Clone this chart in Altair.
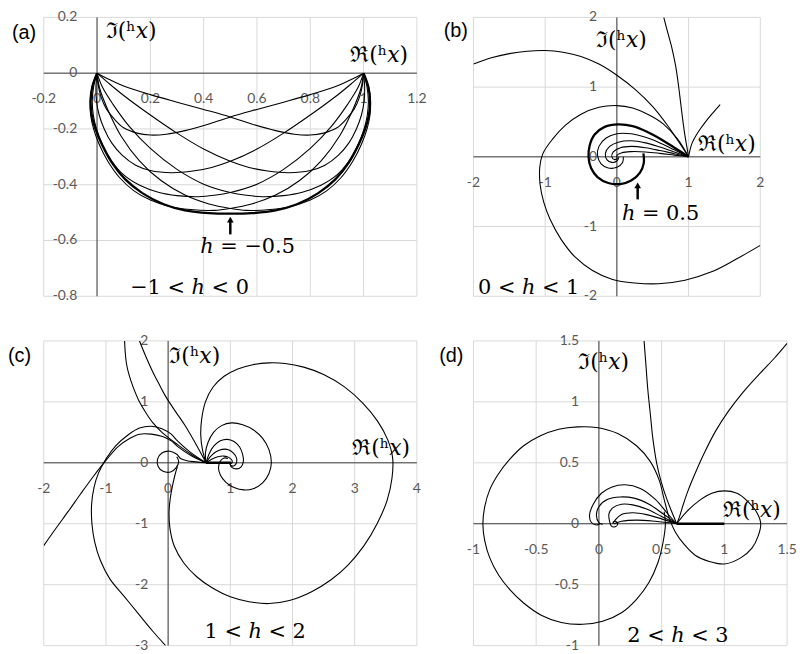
import altair as alt
import pandas as pd

AXIS_COLOR = "#404040"
GRID_COLOR = "#d9d9d9"
LABEL_COLOR = "#595959"
MATH_FONT = "DejaVu Serif"
TAG_FONT = "Liberation Sans"

# ---------------- tick values ----------------
A_XT = [-0.2, 0, 0.2, 0.4, 0.6, 0.8, 1, 1.2]
A_YT = [-0.8, -0.6, -0.4, -0.2, 0, 0.2]
B_XT = [-2, -1, 0, 1, 2]
B_YT = [-2, -1, 0, 1, 2]
C_XT = [-2, -1, 0, 1, 2, 3, 4]
C_YT = [-3, -2, -1, 0, 1, 2]
D_XT = [-1, -0.5, 0, 0.5, 1, 1.5]
D_YT = [-1, -0.5, 0, 0.5, 1, 1.5]

# ---------------- panel (a): -1 < h < 0 ----------------
A1 = [(0,0),(0.004,-0.04),(0.015,-0.085),(0.035,-0.128),(0.065,-0.165),(0.1,-0.196),(0.15,-0.215),(0.2,-0.222),(0.26,-0.219),(0.33,-0.206),(0.42,-0.182),(0.5,-0.157),(0.6,-0.13),(0.7,-0.104),(0.8,-0.077),(0.9,-0.046),(0.96,-0.02),(1,0)]
A9 = [(0,0),(0.04,-0.02),(0.1,-0.046),(0.2,-0.077),(0.3,-0.104),(0.4,-0.13),(0.5,-0.157),(0.58,-0.182),(0.67,-0.206),(0.74,-0.219),(0.8,-0.222),(0.85,-0.215),(0.9,-0.196),(0.935,-0.165),(0.965,-0.128),(0.985,-0.085),(0.996,-0.04),(1,0)]
A2 = [(0,0),(-0.004,-0.05),(-0.002,-0.1),(0.008,-0.15),(0.027,-0.2),(0.055,-0.25),(0.095,-0.295),(0.145,-0.33),(0.2,-0.349),(0.28,-0.357),(0.36,-0.351),(0.43,-0.338),(0.5,-0.316),(0.6,-0.272),(0.7,-0.215),(0.8,-0.15),(0.9,-0.08),(0.96,-0.033),(1,0)]
A8 = [(0,0),(0.04,-0.033),(0.1,-0.08),(0.2,-0.15),(0.3,-0.215),(0.4,-0.272),(0.5,-0.316),(0.57,-0.338),(0.64,-0.351),(0.72,-0.357),(0.8,-0.349),(0.855,-0.33),(0.905,-0.295),(0.945,-0.25),(0.973,-0.2),(0.992,-0.15),(1.002,-0.1),(1.004,-0.05),(1,0)]
A3 = [(0,0),(-0.013,-0.05),(-0.018,-0.1),(-0.014,-0.15),(-0.002,-0.2),(0.02,-0.255),(0.055,-0.315),(0.1,-0.365),(0.16,-0.402),(0.23,-0.427),(0.3,-0.439),(0.38,-0.443),(0.44,-0.438),(0.5,-0.428),(0.6,-0.398),(0.7,-0.345),(0.8,-0.27),(0.88,-0.19),(0.94,-0.112),(0.98,-0.05),(1,0)]
A7 = [(0,0),(0.02,-0.05),(0.06,-0.112),(0.12,-0.19),(0.2,-0.27),(0.3,-0.345),(0.4,-0.398),(0.5,-0.428),(0.56,-0.438),(0.62,-0.443),(0.7,-0.439),(0.77,-0.427),(0.84,-0.402),(0.9,-0.365),(0.945,-0.315),(0.98,-0.255),(1.002,-0.2),(1.014,-0.15),(1.018,-0.1),(1.013,-0.05),(1,0)]
A4 = [(0,0),(-0.019,-0.05),(-0.026,-0.1),(-0.024,-0.15),(-0.013,-0.2),(0.008,-0.255),(0.04,-0.315),(0.085,-0.375),(0.14,-0.423),(0.2,-0.455),(0.27,-0.477),(0.35,-0.489),(0.44,-0.492),(0.5,-0.485),(0.58,-0.469),(0.67,-0.437),(0.76,-0.385),(0.84,-0.315),(0.91,-0.225),(0.96,-0.13),(0.99,-0.055),(1,0)]
A6 = [(0,0),(0.01,-0.055),(0.04,-0.13),(0.09,-0.225),(0.16,-0.315),(0.24,-0.385),(0.33,-0.437),(0.42,-0.469),(0.5,-0.485),(0.56,-0.492),(0.65,-0.489),(0.73,-0.477),(0.8,-0.455),(0.86,-0.423),(0.915,-0.375),(0.96,-0.315),(0.992,-0.255),(1.013,-0.2),(1.024,-0.15),(1.026,-0.1),(1.019,-0.05),(1,0)]
A5 = [(0,0),(-0.018,-0.05),(-0.024,-0.1),(-0.02,-0.15),(-0.006,-0.2),(0.018,-0.255),(0.055,-0.32),(0.105,-0.38),(0.17,-0.43),(0.25,-0.47),(0.33,-0.492),(0.42,-0.502),(0.5,-0.504),(0.58,-0.502),(0.67,-0.492),(0.75,-0.47),(0.83,-0.43),(0.895,-0.38),(0.945,-0.32),(0.982,-0.255),(1.006,-0.2),(1.02,-0.15),(1.024,-0.1),(1.018,-0.05),(1,0)]

# ---------------- panel (b): 0 < h < 1 ----------------
B1 = [(1,0),(0.85,0.25),(0.65,0.47),(0.45,0.6),(0.22,0.7),(0,0.735),(-0.25,0.71),(-0.5,0.61),(-0.72,0.45),(-0.9,0.25),(-1.03,0.05),(-1.075,-0.15),(-1.07,-0.4),(-1.02,-0.65),(-0.93,-0.9),(-0.78,-1.18),(-0.58,-1.44),(-0.34,-1.63),(-0.06,-1.76),(0.25,-1.81),(0.58,-1.82),(0.95,-1.77),(1.32,-1.65),(1.66,-1.47),(2.0,-1.27)]
B2 = [(-2.0,1.33),(-1.75,1.42),(-1.5,1.48),(-1.25,1.515),(-1.0,1.525),(-0.75,1.5),(-0.5,1.44),(-0.25,1.33),(0.0,1.17),(0.25,0.97),(0.5,0.72),(0.7,0.46),(0.86,0.22),(1,0)]
B3 = [(0.654,2.0),(0.71,1.78),(0.77,1.55),(0.82,1.3),(0.86,1.02),(0.89,0.77),(0.92,0.52),(0.95,0.3),(0.98,0.12),(1,0)]
B4 = [(1,0),(1.02,0.1),(1.05,0.2),(1.1,0.3),(1.17,0.41),(1.25,0.52),(1.34,0.63),(1.44,0.75)]
B5 = [(1,0),(0.82,0.12),(0.62,0.25),(0.42,0.36),(0.22,0.44),(0.02,0.465),(-0.17,0.43),(-0.31,0.32),(-0.38,0.16),(-0.395,0.0),(-0.36,-0.16),(-0.27,-0.29),(-0.12,-0.375),(0.05,-0.39),(0.2,-0.34),(0.32,-0.23),(0.375,-0.09),(0.37,0.05)]
B6 = [(1,0),(0.8,0.1),(0.6,0.2),(0.4,0.28),(0.2,0.33),(0.0,0.33),(-0.15,0.27),(-0.25,0.15),(-0.27,0.02),(-0.22,-0.1),(-0.12,-0.16),(0.0,-0.15),(0.08,-0.08),(0.09,0.0)]
B7 = [(1,0),(0.8,0.07),(0.6,0.14),(0.4,0.2),(0.2,0.23),(0.02,0.21),(-0.1,0.15),(-0.16,0.05),(-0.14,-0.04),(-0.07,-0.08),(0.0,-0.06),(0.03,0.0)]
B8 = [(1,0),(0.8,0.045),(0.6,0.09),(0.4,0.13),(0.2,0.15),(0.05,0.13),(-0.05,0.07),(-0.07,0.0),(-0.03,-0.04),(0.01,-0.02)]
B9 = [(1,0),(0.8,0.025),(0.6,0.05),(0.4,0.07),(0.2,0.075),(0.07,0.06),(0.0,0.02),(0.0,-0.01)]

# ---------------- panel (c): 1 < h < 2 ----------------
C1 = [(0.61,0),(0.555,0.2),(0.525,0.45),(0.54,0.72),(0.6,1.0),(0.72,1.24),(0.9,1.42),(1.12,1.54),(1.36,1.61),(1.62,1.64),(1.88,1.63),(2.18,1.57),(2.5,1.45),(2.83,1.25),(3.13,0.98),(3.37,0.68),(3.53,0.38),(3.61,0.08),(3.6,-0.25),(3.52,-0.62),(3.36,-1.0),(3.15,-1.36),(2.9,-1.67),(2.62,-1.92),(2.3,-2.12),(1.95,-2.26),(1.62,-2.31),(1.3,-2.28),(1.0,-2.2),(0.72,-2.06),(0.46,-1.87),(0.25,-1.64),(0.1,-1.37),(0.03,-1.08),(0.015,-0.82),(0.035,-0.58),(0.07,-0.38),(0.11,-0.2),(0.15,-0.06)]
C2 = [(0.61,0),(0.6,0.16),(0.64,0.33),(0.73,0.5),(0.86,0.61),(1.02,0.655),(1.2,0.625),(1.38,0.535),(1.52,0.4),(1.62,0.22),(1.66,0.0),(1.62,-0.18),(1.52,-0.33),(1.38,-0.42),(1.22,-0.445),(1.06,-0.405),(0.93,-0.32),(0.84,-0.2),(0.81,-0.08),(0.84,0.03),(0.9,0.08),(0.96,0.07)]
C3 = [(0.61,0),(0.66,0.15),(0.74,0.28),(0.84,0.36),(0.95,0.385),(1.06,0.35),(1.15,0.26),(1.2,0.13),(1.21,0.02),(1.17,-0.07),(1.1,-0.1),(1.03,-0.08),(1.0,-0.03),(1.01,0.02)]
C4 = [(0.61,0),(0.68,0.1),(0.77,0.18),(0.87,0.22),(0.97,0.215),(1.05,0.16),(1.1,0.08),(1.1,0.0),(1.06,-0.05),(1.01,-0.045),(0.99,-0.005)]
C5 = [(0.61,0),(0.7,0.06),(0.8,0.1),(0.9,0.11),(0.98,0.085),(1.03,0.035),(1.02,-0.01),(0.99,-0.01)]
C6 = [(0.61,0),(0.4,0.12),(0.15,0.3),(-0.09,0.49),(-0.24,0.65),(-0.35,0.81),(-0.47,1.02),(-0.565,1.25),(-0.63,1.45),(-0.67,1.63),(-0.69,1.82),(-0.7,2.0)]
C7 = [(0.61,0),(0.45,0.3),(0.28,0.6),(0.12,0.84),(-0.04,1.09),(-0.15,1.3),(-0.25,1.5),(-0.36,1.75),(-0.46,2.0)]
C8 = [(-2.0,-1.36),(-1.8,-1.07),(-1.6,-0.79),(-1.4,-0.5),(-1.2,-0.22),(-1.0,0.04),(-0.8,0.27),(-0.62,0.4),(-0.46,0.47),(-0.27,0.47),(-0.09,0.43),(0.05,0.36),(0.15,0.27),(0.38,0.11),(0.61,0)]
C9 = [(-0.04,-3.0),(-0.25,-2.76),(-0.46,-2.5),(-0.7,-2.2),(-0.94,-1.9),(-1.09,-1.6),(-1.18,-1.3),(-1.225,-1.0),(-1.23,-0.68),(-1.19,-0.4),(-1.12,-0.17),(-1.0,0.06),(-0.84,0.28),(-0.64,0.46),(-0.46,0.57),(-0.27,0.6),(-0.1,0.56),(0.05,0.47),(0.15,0.36),(0.35,0.18),(0.61,0)]
C10 = [(0.61,0),(0.45,0.015),(0.3,0.035),(0.2,0.07),(0.14,0.14),(0.03,0.19),(-0.1,0.16),(-0.17,0.06),(-0.16,-0.06),(-0.08,-0.14),(0.04,-0.15),(0.13,-0.08),(0.17,0.02),(0.14,0.1)]
C_AX = [(0.61,0),(1.0,0)]

# ---------------- panel (d): 2 < h < 3 ----------------
D1 = [(0.62,0),(0.7,0.1),(0.8,0.19),(0.9,0.25),(1.0,0.27),(1.1,0.25),(1.19,0.18),(1.26,0.09),(1.29,0.0),(1.27,-0.1),(1.22,-0.2),(1.13,-0.28),(1.0,-0.33),(0.88,-0.31),(0.77,-0.26),(0.68,-0.17),(0.61,-0.07),(0.56,0.05),(0.52,0.2),(0.48,0.36),(0.41,0.51),(0.3,0.64),(0.15,0.74),(-0.02,0.79),(-0.17,0.795),(-0.32,0.775),(-0.47,0.72),(-0.6,0.64),(-0.71,0.53),(-0.8,0.41),(-0.87,0.28),(-0.91,0.14),(-0.925,0.0),(-0.91,-0.14),(-0.87,-0.28),(-0.8,-0.42),(-0.71,-0.54),(-0.6,-0.65),(-0.46,-0.75),(-0.3,-0.81),(-0.13,-0.825),(0.03,-0.8),(0.18,-0.73),(0.3,-0.62),(0.4,-0.48),(0.47,-0.32),(0.51,-0.16),(0.53,0.0),(0.52,0.1)]
D2 = [(0.62,0),(0.58,0.1),(0.535,0.22),(0.495,0.35),(0.46,0.5),(0.43,0.7),(0.41,0.9),(0.39,1.1),(0.375,1.3),(0.36,1.5)]
D3 = [(0.62,0),(0.64,0.05),(0.67,0.15),(0.71,0.27),(0.77,0.42),(0.84,0.58),(0.93,0.76),(1.03,0.92),(1.15,1.08),(1.29,1.24),(1.4,1.36),(1.5,1.48)]
D4 = [(0.62,0),(0.55,0.08),(0.45,0.2),(0.33,0.29),(0.21,0.32),(0.1,0.3),(0.02,0.25),(-0.045,0.16),(-0.075,0.07),(-0.06,0.01),(-0.02,-0.01),(0.01,0.0)]
D5 = [(0.62,0),(0.5,0.09),(0.4,0.16),(0.28,0.21),(0.17,0.22),(0.07,0.2),(0.0,0.14),(-0.02,0.07),(0.0,0.01),(0.03,-0.005)]
D6 = [(0.62,0),(0.5,0.06),(0.38,0.12),(0.27,0.155),(0.18,0.16),(0.11,0.13),(0.08,0.08),(0.085,0.02),(0.1,-0.02),(0.13,-0.025),(0.15,0.0),(0.13,0.02),(0.11,0.01)]
D7 = [(0.62,0),(0.5,0.04),(0.38,0.075),(0.27,0.09),(0.18,0.075),(0.13,0.03),(0.11,0.0)]
D8 = [(0.62,0),(0.45,0.02),(0.3,0.03),(0.18,0.02),(0.12,0.0)]
D_AX = [(0.62,0),(1.0,0)]

THIN = 1.1
THICK = 2.3


def curves_frame(curves):
    rows = []
    for name, pts, w in curves:
        for i, (x, y) in enumerate(pts):
            rows.append({"c": name, "i": i, "x": x, "y": y, "w": w})
    return pd.DataFrame(rows)


def ticks_frame(vals):
    return pd.DataFrame({"v": vals, "lab": [f"{v:g}" for v in vals]})


ONE = pd.DataFrame({"_": [0]})


def panel(curves, xdom, ydom, xt, yt, w, h, tag, tag_xy, notes, arrow=None):
    xs = alt.Scale(domain=xdom, nice=False, zero=False)
    ys = alt.Scale(domain=ydom, nice=False, zero=False)

    def X(v):
        return alt.XDatum(v, scale=xs, axis=None)

    def Y(v):
        return alt.YDatum(v, scale=ys, axis=None)

    layers = []
    # gridlines
    layers.append(alt.Chart(ticks_frame(xt)).mark_rule(color=GRID_COLOR, strokeWidth=1).encode(
        x=alt.X("v:Q", scale=xs, axis=None)))
    layers.append(alt.Chart(ticks_frame(yt)).mark_rule(color=GRID_COLOR, strokeWidth=1).encode(
        y=alt.Y("v:Q", scale=ys, axis=None)))
    # axis lines crossing at the origin
    layers.append(alt.Chart(ONE).mark_rule(color=AXIS_COLOR, strokeWidth=1).encode(y=Y(0)))
    layers.append(alt.Chart(ONE).mark_rule(color=AXIS_COLOR, strokeWidth=1).encode(x=X(0)))
    # tick labels next to the axes
    layers.append(alt.Chart(ticks_frame(xt)).mark_text(
        font="Lato", fontSize=14, color=LABEL_COLOR, baseline="top", align="center", dy=19).encode(
        x=alt.X("v:Q", scale=xs, axis=None), y=Y(0), text="lab:N"))
    layers.append(alt.Chart(ticks_frame(yt)).mark_text(
        font="Lato", fontSize=14, color=LABEL_COLOR, baseline="middle", align="right", dx=-20).encode(
        y=alt.Y("v:Q", scale=ys, axis=None), x=X(0), text="lab:N"))
    # curves
    layers.append(alt.Chart(curves_frame(curves)).mark_line(
        interpolate="catmull-rom", color="black", clip=True, strokeJoin="round").encode(
        x=alt.X("x:Q", scale=xs, axis=None),
        y=alt.Y("y:Q", scale=ys, axis=None),
        detail="c:N", order="i:Q",
        strokeWidth=alt.StrokeWidth("w:Q", scale=None)))
    # annotations
    for text, nx, ny, size, align in notes:
        layers.append(alt.Chart(ONE).mark_text(
            text=text, font=MATH_FONT, fontSize=size, align=align, baseline="middle",
            color="black").encode(x=X(nx), y=Y(ny)))
    if arrow is not None:
        ax, tip, bottom = arrow
        layers.append(alt.Chart(ONE).mark_rule(color="black", strokeWidth=2.5).encode(
            x=X(ax), y=Y(tip), y2=alt.Y2Datum(bottom)))
        layers.append(alt.Chart(ONE).mark_point(
            shape="triangle-up", filled=True, color="black", opacity=1, size=45).encode(
            x=X(ax), y=Y(tip)))
    layers.append(alt.Chart(ONE).mark_text(
        text=tag, font=TAG_FONT, fontSize=20, align="left", baseline="middle", color="black"
    ).encode(x=alt.value(tag_xy[0]), y=alt.value(tag_xy[1])))
    return alt.layer(*layers).properties(width=w, height=h)


IM = "\u2111(\u02b0\U0001D465)"
RE = "\u211c(\u02b0\U0001D465)"
H = "\u210e"
LBL = 22

pa = panel(
    [("a1", A1, THIN), ("a2", A2, THIN), ("a3", A3, THIN), ("a4", A4, THIN), ("a5", A5, THICK),
     ("a6", A6, THIN), ("a7", A7, THIN), ("a8", A8, THIN), ("a9", A9, THIN)],
    [-0.2, 1.2], [-0.8, 0.2], A_XT, A_YT, 376, 281, "(a)", (-32, 16),
    [(IM, 0.033, 0.15, LBL, "left"), (RE, 0.95, 0.065, LBL, "left"),
     (f"{H} = \u22120.5", 0.565, -0.625, 21, "center"),
     (f"\u22121 < {H} < 0", 0.347, -0.769, 21, "center")],
    arrow=(0.5, -0.525, -0.578))

pb = panel(
    [("b1", B1, THIN), ("b2", B2, THIN), ("b3", B3, THIN), ("b4", B4, THIN), ("b5", B5, THICK),
     ("b6", B6, THIN), ("b7", B7, THIN), ("b8", B8, THIN), ("b9", B9, THIN)],
    [-2, 2], [-2, 2], B_XT, B_YT, 289, 281, "(b)", (-30, 14),
    [(IM, -0.29, 1.68, LBL, "left"), (RE, 1.13, 0.19, LBL, "left"),
     (f"{H} = 0.5", 0.61, -0.82, 21, "center"),
     (f"0 < {H} < 1", -1.23, -1.88, 21, "center")],
    arrow=(0.29, -0.41, -0.61))

pc = panel(
    [("c1", C1, THIN), ("c2", C2, THIN), ("c3", C3, THIN), ("c4", C4, THIN), ("c5", C5, THIN),
     ("c6", C6, THIN), ("c7", C7, THIN), ("c8", C8, THIN), ("c9", C9, THIN), ("c10", C10, THIN),
     ("cax", C_AX, 2.5)],
    [-2, 4], [-3, 2], C_XT, C_YT, 376, 307, "(c)", (-36, 15),
    [(IM, 0.02, 1.75, LBL, "left"), (RE, 2.96, 0.25, LBL, "left"),
     (f"1 < {H} < 2", 1.40, -2.77, 21, "center")])

pd_ = panel(
    [("d1", D1, THIN), ("d2", D2, THIN), ("d3", D3, THIN), ("d4", D4, THIN), ("d5", D5, THIN),
     ("d6", D6, THIN), ("d7", D7, THIN), ("d8", D8, THIN), ("dax", D_AX, 2.5)],
    [-1, 1.5], [-1, 1.5], D_XT, D_YT, 316, 307, "(d)", (-34.5, 15),
    [(IM, -0.165, 1.33, LBL, "left"), (RE, 0.99, 0.11, LBL, "left"),
     (f"2 < {H} < 3", 0.63, -0.92, 21, "center")])

chart = alt.concat(pa, pb, pc, pd_, columns=2, spacing={"row": 45, "column": 57},
                   bounds="flush", align="each").properties(
    padding=0, background="white").configure_view(stroke=None)

chart.save("out.html", embed_options={"renderer": "svg", "actions": False})
